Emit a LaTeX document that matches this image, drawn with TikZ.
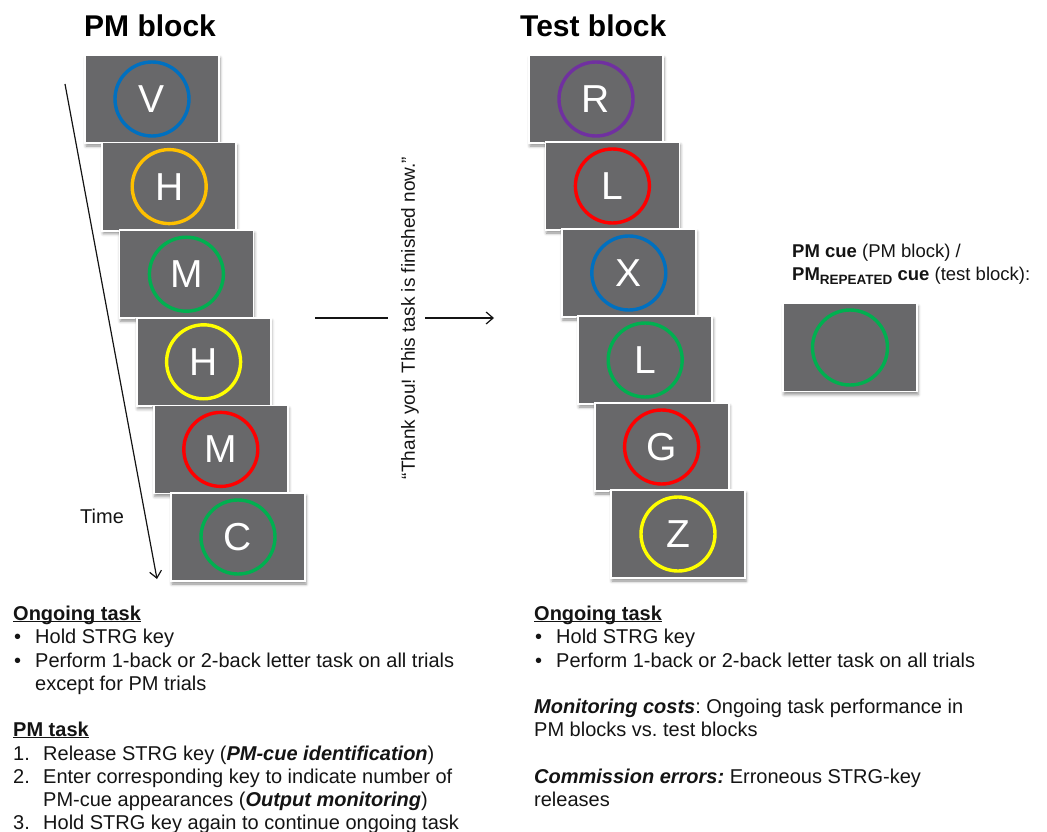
\documentclass[tikz,border=0pt]{standalone}
\usepackage{fontspec}
\setmainfont{Liberation Sans}
\usetikzlibrary{arrows.meta,shadows.blur}
\frenchspacing

\definecolor{cardgray}{RGB}{104,104,106}
\definecolor{ringblue}{RGB}{0,112,192}
\definecolor{ringgold}{RGB}{255,192,0}
\definecolor{ringgreen}{RGB}{0,176,80}
\definecolor{ringyellow}{RGB}{255,255,0}
\definecolor{ringred}{RGB}{255,0,0}
\definecolor{ringpurple}{RGB}{112,48,160}
\definecolor{inkblack}{RGB}{20,20,20}

% bold heading with a rule just under the baseline
\newcommand\ulinetext[1]{\setbox0\hbox{#1}\rlap{\rule[-2.4pt]{\wd0}{1.4pt}}\box0}
\newcommand\bi[1]{\textbf{\textit{#1}}}

\begin{document}
\begin{tikzpicture}[x=1pt,y=-1pt,
  card/.style={rectangle, fill=cardgray, draw=white, line width=1.8pt,
    minimum width=134pt, minimum height=88pt, inner sep=0pt, text=white,
    font=\fontsize{39}{39}\selectfont,
    blur shadow={shadow xshift=1pt, shadow yshift=-3pt,
      shadow blur radius=3pt, shadow opacity=45}},
  ring/.style={line width=3.4pt},
  txt/.style={anchor=base west, inner sep=0pt, text=inkblack,
    font=\fontsize{20}{24}\selectfont},
  cuetxt/.style={txt, font=\fontsize{18.5}{22}\selectfont},
  title/.style={anchor=base west, inner sep=0pt, text=black,
    font=\fontsize{30}{34}\selectfont\bfseries},
  flow/.style={line width=1.2pt, inkblack},
  flowarrow/.style={flow, -{Straight Barb[length=7pt, width=12pt, line width=1.2pt]}}
]
\useasboundingbox (0,0) rectangle (1047,832);

% block titles
\node[title] (pmtitle) at (84,37) {PM block};
\node[title] (testtitle) at (520,37) {Test block};

% PM block trial sequence
\foreach \i/\l/\c in {0/V/ringblue,1/H/ringgold,2/M/ringgreen,3/H/ringyellow,4/M/ringred,5/C/ringgreen}{
  \node[card] (pm\i) at ({152+17.2*\i},{99+87.6*\i}) {\l};
  \draw[ring,\c] (pm\i.center) circle (37);
}

% test block trial sequence
\foreach \i/\l/\c in {0/R/ringpurple,1/L/ringred,2/X/ringblue,3/L/ringgreen,4/G/ringred,5/Z/ringyellow}{
  \node[card] (test\i) at ({596+16.4*\i},{99+87*\i}) {\l};
  \draw[ring,\c] (test\i.center) circle (37);
}

% time axis
\coordinate (timestart) at (65,84);
\coordinate (timeend) at (157,579);
\draw[flowarrow] (timestart) -- (timeend);
\node[txt] (timelabel) at (80,523) {Time};

% transition between the blocks
\node[inner sep=0pt, rotate=90, text=inkblack, font=\fontsize{19}{22}\selectfont]
  (thanks) at (410,318) {“Thank you! This task is finished now.”};
\coordinate (flowa) at (315,318);
\coordinate (flowb) at (388,318);
\coordinate (flowc) at (425,318);
\coordinate (flowd) at (494,318);
\draw[flow] (flowa) -- (flowb);
\draw[flowarrow] (flowc) -- (flowd);

% PM cue example
\node[cuetxt] (cue1) at (792,257) {\textbf{PM cue} (PM block) /};
\node[cuetxt] (cue2) at (792,280)
  {\textbf{PM\raisebox{-4pt}{\fontsize{13.5}{14}\selectfont REPEATED} cue} (test block):};
\node[card] (cuecard) at (850,347.5) {};
\draw[ring,ringgreen] (cuecard.center) circle (37.5);

% instructions, PM block
\node[txt] (lhead1) at (13,620) {\ulinetext{\textbf{Ongoing task}}};
\node[txt] (lb1) at (14,643) {•};
\node[txt] (lt1) at (35,643) {Hold STRG key};
\node[txt] (lb2) at (14,667) {•};
\node[txt] (lt2) at (35,667) {Perform 1-back or 2-back letter task on all trials};
\node[txt] (lt2b) at (35,690) {except for PM trials};
\node[txt] (lhead2) at (13,736) {\ulinetext{\textbf{PM task}}};
\node[txt] (ln1) at (13,760) {1.};
\node[txt] (lp1) at (43,760) {Release STRG key (\bi{PM-cue identification})};
\node[txt] (ln2) at (13,783) {2.};
\node[txt] (lp2) at (43,783) {Enter corresponding key to indicate number of};
\node[txt] (lp2b) at (43,806) {PM-cue appearances (\bi{Output monitoring})};
\node[txt] (ln3) at (13,829) {3.};
\node[txt] (lp3) at (43,829) {Hold STRG key again to continue ongoing task};

% instructions, test block
\node[txt] (rhead1) at (534,620) {\ulinetext{\textbf{Ongoing task}}};
\node[txt] (rb1) at (535,643) {•};
\node[txt] (rt1) at (556,643) {Hold STRG key};
\node[txt] (rb2) at (535,667) {•};
\node[txt] (rt2) at (556,667) {Perform 1-back or 2-back letter task on all trials};
\node[txt] (rm1) at (534,713) {\bi{Monitoring costs}: Ongoing task performance in};
\node[txt] (rm2) at (534,736) {PM blocks vs. test blocks};
\node[txt] (rc1) at (534,783) {\bi{Commission errors:} Erroneous STRG-key};
\node[txt] (rc2) at (534,806) {releases};
\end{tikzpicture}
\end{document}
